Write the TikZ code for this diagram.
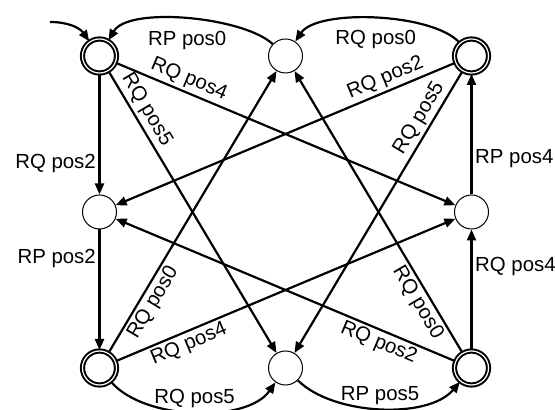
\documentclass[tikz,border=0pt]{standalone}
\usepackage{fontspec}
\setmainfont{Liberation Sans}
\usetikzlibrary{arrows.meta, positioning}
\tikzset{
	stnode/.style={circle, draw, line width=0.5pt, minimum size=17pt, inner sep=0pt},
	acnode/.style={stnode, double, line width=1pt, double distance=0.6pt},
	trarr/.style={-{Triangle[length=5.5pt, width=4.5pt]}, line width=1.1pt},
	trlab/.style={font=\fontsize{10.2}{12}\selectfont, inner sep=1.3pt}
}

\begin{document}
\begin{tikzpicture}[x=0.5pt, y=0.5pt, node distance=78pt and 93pt, on grid]
	\useasboundingbox (-99.5,56) rectangle (455.5,-354);
	\node[acnode] (s0) {};
	\node[stnode, right=of s0] (s1) {};
	\node[acnode, right=of s1] (s2) {};
	\node[stnode, below=of s0] (s3) {};
	\node[stnode, below=of s2] (s4) {};
	\node[acnode, below=of s3] (s5) {};
	\node[stnode, right=of s5] (s6) {};
	\node[acnode, right=of s6] (s7) {};
	\coordinate (init) at (-49.5,34);
	\draw[trarr] (init) to[out=0, in=125] (s0);
	\draw[trarr] (s1) to[out=137, in=60, looseness=0.62] node[trlab, below=4pt] {RP pos0} (s0);
	\draw[trarr] (s2) to[out=132, in=56, looseness=0.62] node[trlab, below=4pt] {RQ pos0} (s1);
	\draw[trarr] (s0) -- node[trlab, left, pos=0.74] {RQ pos2} (s3);
	\draw[trarr] (s3) -- node[trlab, left, pos=0.24] {RP pos2} (s5);
	\draw[trarr] (s4) -- node[trlab, right, pos=0.3] {RP pos4} (s2);
	\draw[trarr] (s7) -- node[trlab, right, pos=0.69] {RQ pos4} (s4);
	\draw[trarr] (s5) to[out=-50, in=-125, looseness=0.78] node[trlab, above] {RQ pos5} (s6);
	\draw[trarr] (s6) to[out=-45, in=-130, looseness=0.78] node[trlab, above] {RP pos5} (s7);
	\draw[trarr] (s0) -- node[trlab, above, sloped, pos=0.2] {RQ pos4} (s4);
	\draw[trarr] (s0) -- node[trlab, above, sloped, pos=0.16] {RQ pos5} (s6);
	\draw[trarr] (s2) -- node[trlab, above, sloped, pos=0.19] {RQ pos2} (s3);
	\draw[trarr] (s2) -- node[trlab, above, sloped, pos=0.19] {RQ pos5} (s6);
	\draw[trarr] (s5) -- node[trlab, below, sloped, pos=0.2] {RQ pos0} (s1);
	\draw[trarr] (s5) -- node[trlab, below, sloped, pos=0.2] {RQ pos4} (s4);
	\draw[trarr] (s7) -- node[trlab, below, sloped, pos=0.21] {RQ pos2} (s3);
	\draw[trarr] (s7) -- node[trlab, below, sloped, pos=0.2] {RQ pos0} (s1);
\end{tikzpicture}
\end{document}
